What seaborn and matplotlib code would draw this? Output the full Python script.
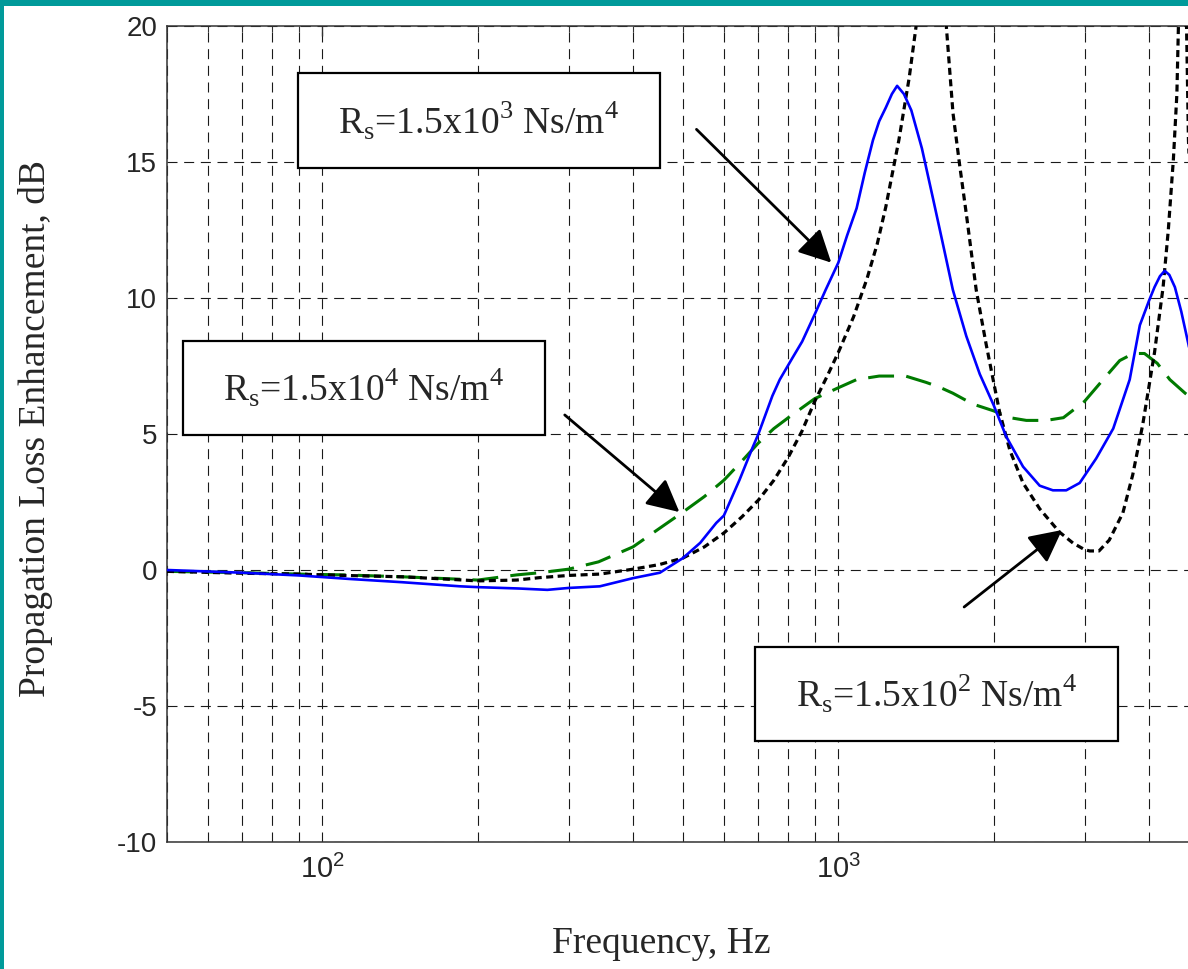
import matplotlib
matplotlib.use("Agg")
import matplotlib.pyplot as plt
import seaborn as sns
import pandas as pd
from matplotlib.patches import Rectangle
from matplotlib.ticker import LogLocator, FixedLocator, NullLocator, NullFormatter, LogFormatterMathtext

# ---- data: propagation loss enhancement (dB) vs frequency (Hz) ----
freq_rs_1e3 = [50, 70, 90, 113, 143, 185, 200, 240, 273, 300, 345, 400, 451, 500, 540,
               580, 600, 643, 682, 700, 745, 770, 815, 851, 900, 945, 1000, 1040, 1085,
               1125, 1167, 1200, 1236, 1270, 1300, 1340, 1385, 1452, 1524, 1590, 1667,
               1770, 1880, 2000, 2116, 2280, 2456, 2605, 2765, 2936, 3160, 3410, 3670,
               3840, 4000, 4100, 4200, 4290, 4380, 4490, 4620, 4770, 4850]
loss_rs_1e3 = [0.0, -0.1, -0.2, -0.33, -0.45, -0.6, -0.63, -0.68, -0.73, -0.66, -0.6, -0.3,
               -0.1, 0.44, 1.0, 1.73, 2.0, 3.3, 4.5, 5.0, 6.4, 7.0, 7.8, 8.4, 9.4, 10.3,
               11.3, 12.3, 13.3, 14.6, 15.8, 16.5, 17.0, 17.5, 17.8, 17.5, 16.9, 15.5,
               13.7, 12.1, 10.3, 8.6, 7.2, 6.06, 4.9, 3.8, 3.1, 2.93, 2.93, 3.2, 4.1, 5.2,
               7.0, 9.0, 9.9, 10.4, 10.8, 11.0, 10.85, 10.4, 9.5, 8.3, 7.6]

freq_rs_1e4 = [50, 70, 90, 110, 143, 180, 200, 238, 264, 300, 343, 400, 451, 500, 550,
               600, 650, 700, 750, 800, 900, 1000, 1085, 1200, 1350, 1478, 1567, 1667,
               1823, 2000, 2150, 2314, 2530, 2730, 3000, 3260, 3510, 3730, 3920, 4150,
               4390, 4700, 4850]
loss_rs_1e4 = [-0.05, -0.1, -0.15, -0.18, -0.25, -0.33, -0.37, -0.18, -0.1, 0.03, 0.3,
               0.85, 1.54, 2.13, 2.7, 3.3, 4.0, 4.67, 5.2, 5.6, 6.3, 6.7, 7.0, 7.13, 7.13,
               6.9, 6.73, 6.5, 6.1, 5.85, 5.6, 5.5, 5.5, 5.6, 6.2, 7.0, 7.7, 7.96, 7.96,
               7.6, 7.0, 6.5, 6.3]

freq_rs_1e2 = [50, 70, 90, 110, 143, 180, 200, 238, 264, 300, 345, 400, 450, 500, 550,
               600, 650, 700, 750, 800, 850, 900, 950, 1000, 1070, 1136, 1190, 1236, 1310,
               1372, 1415, 1480, 1520, 1570, 1619, 1668, 1718, 1770, 1850, 1934, 2000,
               2054, 2150, 2280, 2456, 2680, 2850, 3000, 3070, 3200, 3350, 3560, 3720,
               3890, 4100, 4260, 4360, 4460, 4530, 4560, 4600, 4660, 4720, 4770, 4850]
loss_rs_1e2 = [-0.05, -0.12, -0.15, -0.2, -0.25, -0.35, -0.4, -0.37, -0.28, -0.2, -0.15,
               0.03, 0.2, 0.44, 0.85, 1.36, 1.95, 2.57, 3.3, 4.15, 5.1, 6.2, 7.1, 8.0, 9.3,
               10.7, 12.0, 13.35, 15.8, 18.1, 20.0, 24.0, 26.0, 24.0, 20.0, 16.8, 14.9,
               13.1, 10.3, 8.3, 6.9, 5.8, 4.4, 3.2, 2.25, 1.4, 0.99, 0.75, 0.7, 0.7, 1.1,
               2.1, 3.5, 5.35, 8.0, 10.4, 12.5, 15.1, 17.5, 19.9, 23.0, 25.0, 21.0, 15.8,
               12.5]

y_ticks = [-10, -5, 0, 5, 10, 15, 20]
x_range = (50, 5000)
y_range = (-10, 20)

label_rs_1e3 = r"R$_\mathregular{s}$=1.5x10$^\mathregular{3}$ Ns/m$^\mathregular{4}$"
label_rs_1e4 = r"R$_\mathregular{s}$=1.5x10$^\mathregular{4}$ Ns/m$^\mathregular{4}$"
label_rs_1e2 = r"R$_\mathregular{s}$=1.5x10$^\mathregular{2}$ Ns/m$^\mathregular{4}$"
x_label = "Frequency, Hz"
y_label = "Propagation Loss Enhancement, dB"

# ---- style ----
sns.set_style("white")
plt.rcParams["font.family"] = ["Liberation Sans", "DejaVu Sans"]
plt.rcParams["axes.unicode_minus"] = False
SERIF = ["Liberation Serif", "DejaVu Serif"]

W, H = 1188, 969
fig = plt.figure(figsize=(W / 100, H / 100), dpi=100, facecolor="white")


def fx(px):
    return px / W


def fy(py):
    return 1 - py / H


# axes: 50 Hz at x=167 px, 5000 Hz runs just past the right edge
ax_left, ax_right, ax_top, ax_bottom = 167, 1199, 26, 842
ax = fig.add_axes([fx(ax_left), fy(ax_bottom), (ax_right - ax_left) / W,
                   (ax_bottom - ax_top) / H])

df_1e3 = pd.DataFrame({"f": freq_rs_1e3, "L": loss_rs_1e3})
df_1e4 = pd.DataFrame({"f": freq_rs_1e4, "L": loss_rs_1e4})
df_1e2 = pd.DataFrame({"f": freq_rs_1e2, "L": loss_rs_1e2})

sns.lineplot(data=df_1e4, x="f", y="L", ax=ax, color="#007a00", linewidth=2.2,
             linestyle=(0, (8.5, 4.0)), errorbar=None, legend=False, zorder=3)
sns.lineplot(data=df_1e2, x="f", y="L", ax=ax, color="black", linewidth=2.3,
             linestyle=(0, (2.2, 1.4)), errorbar=None, legend=False, zorder=4)
sns.lineplot(data=df_1e3, x="f", y="L", ax=ax, color="#0000ff", linewidth=1.9,
             errorbar=None, legend=False, zorder=5)

ax.set_xscale("log")
ax.set_xlim(*x_range)
ax.set_ylim(*y_range)
ax.xaxis.set_major_locator(LogLocator(base=10))
ax.xaxis.set_minor_locator(LogLocator(base=10, subs=[2, 3, 4, 5, 6, 7, 8, 9]))
ax.xaxis.set_major_formatter(LogFormatterMathtext())
ax.xaxis.set_minor_formatter(NullFormatter())
ax.yaxis.set_major_locator(FixedLocator(y_ticks))
ax.yaxis.set_minor_locator(NullLocator())
ax.set_yticklabels([str(v) for v in y_ticks])
ax.set_xlabel("")
ax.set_ylabel("")

grid_kw = dict(color="#1a1a1a", linewidth=0.8, linestyle=(0, (9, 6)))
ax.grid(True, which="both", axis="x", **grid_kw)
ax.grid(True, which="major", axis="y", **grid_kw)
ax.set_axisbelow(True)

for s in ax.spines.values():
    s.set_color("#333333")
    s.set_linewidth(1.1)
    s.set_visible(True)

ax.tick_params(axis="both", which="both", direction="in", top=True, right=True,
               color="#333333")
ax.tick_params(which="major", length=7, width=1.0)
ax.tick_params(which="minor", length=4, width=0.8)
ax.tick_params(axis="y", labelsize=20, pad=7)
ax.tick_params(axis="x", labelsize=21, pad=9)

# ---- axis titles ----
fig.text(fx(661), fy(953), x_label, ha="center", va="baseline", fontsize=27,
         family=SERIF)
fig.text(fx(36), fy(428), y_label, ha="center", va="center", rotation=90,
         fontsize=27, family=SERIF)

# ---- annotation boxes ----
boxes = [
    ((298, 73, 660, 168), label_rs_1e3),
    ((183, 341, 545, 435), label_rs_1e4),
    ((755, 647, 1118, 741), label_rs_1e2),
]
for (x0, y0, x1, y1), txt in boxes:
    fig.add_artist(Rectangle((fx(x0), fy(y1)), (x1 - x0) / W, (y1 - y0) / H,
                             transform=fig.transFigure, facecolor="white",
                             edgecolor="black", linewidth=1.6, zorder=10))
    fig.text(fx((x0 + x1) / 2), fy((y0 + y1) / 2 + 13), txt, ha="center",
             va="baseline", fontsize=27, family=SERIF, zorder=11)

# ---- arrows pointing to each curve ----
arrows = [
    ((531, 16.2), (969, 11.3)),
    ((295, 5.7), (492, 2.13)),
    ((1753, -1.36), (2713, 1.47)),
]
for (tx, ty), (hx, hy) in arrows:
    ax.annotate("", xy=(hx, hy), xytext=(tx, ty), xycoords="data",
                textcoords="data", annotation_clip=False, zorder=12,
                arrowprops=dict(arrowstyle="-|>,head_length=0.55,head_width=0.28",
                                mutation_scale=36, color="black", lw=2.0,
                                shrinkA=0, shrinkB=0))

# ---- slide frame strips ----
teal = "#009a9a"
fig.add_artist(Rectangle((0, 0), fx(4), 1, transform=fig.transFigure,
                         facecolor=teal, edgecolor="none", zorder=20))
fig.add_artist(Rectangle((0, fy(6)), 1, 6 / H, transform=fig.transFigure,
                         facecolor=teal, edgecolor="none", zorder=20))

fig.savefig("out.png", dpi=100, facecolor="white")
